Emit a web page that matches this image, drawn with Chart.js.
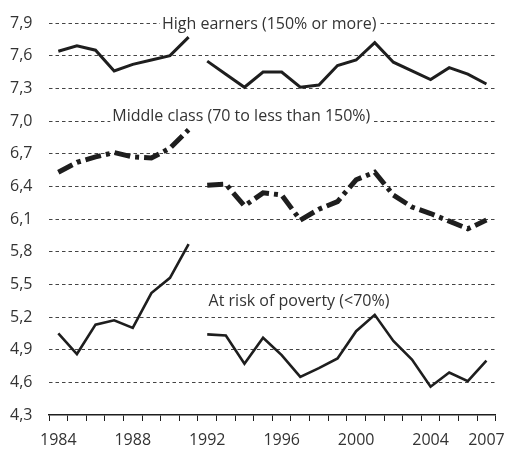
<!DOCTYPE html>
<html>
<head>
<meta charset="utf-8">
<script src="https://cdn.jsdelivr.net/npm/chart.js@4/dist/chart.umd.min.js"></script>
<style>
  html, body { margin: 0; padding: 0; background: #fff; }
  #wrap { width: 515px; height: 452px; position: relative; }
</style>
</head>
<body>
<div id="wrap"><canvas id="incomeChart"></canvas></div>
<script>
const years = ['1984', '1985', '1986', '1987', '1988', '1989', '1990', '1991',
  '1992', '1993', '1994', '1995', '1996', '1997', '1998', '1999',
  '2000', '2001', '2002', '2003', '2004', '2005', '2006', '2007'];

const highEarners = [7.64, 7.69, 7.65, 7.46, 7.52, 7.56, 7.60, 7.77,
  7.55, 7.43, 7.31, 7.45, 7.45, 7.31, 7.33, 7.51,
  7.56, 7.72, 7.54, 7.46, 7.38, 7.49, 7.43, 7.34];

const middleClass = [6.53, 6.62, 6.67, 6.71, 6.67, 6.66, 6.75, 6.92,
  6.41, 6.42, 6.22, 6.34, 6.32, 6.09, 6.19, 6.26,
  6.46, 6.53, 6.32, 6.21, 6.15, 6.08, 6.01, 6.09];

const atRisk = [5.05, 4.86, 5.13, 5.17, 5.10, 5.42, 5.56, 5.87,
  5.04, 5.03, 4.77, 5.01, 4.85, 4.65, 4.73, 4.82,
  5.07, 5.22, 4.98, 4.81, 4.56, 4.69, 4.61, 4.80];

const yTicks = [4.3, 4.6, 4.9, 5.2, 5.5, 5.8, 6.1, 6.4, 6.7, 7.0, 7.3, 7.6, 7.9];
const xTickLabels = ['1984', '1988', '1992', '1996', '2000', '2004', '2007'];

// the series break between 1991 and 1992 (west only / unified Germany)
const lastWestYear = '1991';

const seriesLabels = [
  { text: 'High earners (150% or more)', x: 11.33, y: 7.885 },
  { text: 'Middle class (70 to less than 150%)', x: 9.83, y: 7.04 },
  { text: 'At risk of poverty (<70%)', x: 12.93, y: 5.34 }
];

const ink = '#1e1e1e';
const textColor = '#333';
const fontFamily = "'Open Sans', sans-serif";
const gridDash = [3.5, 3];

function beforeBreak(values) {
  return values.map((v, i) => (years[i] <= lastWestYear ? v : null));
}
function afterBreak(values) {
  return values.map((v, i) => (years[i] > lastWestYear ? v : null));
}

function lineSet(values, width, dash) {
  return {
    data: values,
    borderColor: ink,
    borderWidth: width,
    borderDash: dash,
    borderCapStyle: 'butt',
    borderJoinStyle: 'miter',
    pointRadius: 0,
    fill: false,
    tension: 0,
    spanGaps: false
  };
}

const dashDot = [16, 5, 4, 5];

// labels sit on the gridlines with a white box behind them
const seriesLabelPlugin = {
  id: 'seriesLabels',
  beforeDatasetsDraw(chart) {
    const c = chart.ctx;
    const xs = chart.scales.x;
    const ys = chart.scales.y;
    c.save();
    c.font = '16px ' + fontFamily;
    c.textAlign = 'center';
    c.textBaseline = 'middle';
    seriesLabels.forEach(lab => {
      const px = xs.getPixelForValue(lab.x);
      const py = ys.getPixelForValue(lab.y);
      const w = c.measureText(lab.text).width;
      c.fillStyle = '#fff';
      c.fillRect(px - w / 2 - 2, py - 9, w + 4, 18);
      c.fillStyle = textColor;
      c.fillText(lab.text, px, py);
    });
    c.restore();
  }
};

new Chart(document.getElementById('incomeChart'), {
  type: 'line',
  data: {
    labels: years,
    datasets: [
      lineSet(beforeBreak(highEarners), 3, []),
      lineSet(afterBreak(highEarners), 3, []),
      lineSet(beforeBreak(middleClass), 5, dashDot),
      lineSet(afterBreak(middleClass), 5, dashDot),
      lineSet(beforeBreak(atRisk), 2.6, []),
      lineSet(afterBreak(atRisk), 2.6, [])
    ]
  },
  options: {
    responsive: true,
    maintainAspectRatio: false,
    animation: false,
    layout: { padding: { top: 23, right: 13, left: 10, bottom: 0 } },
    plugins: {
      legend: { display: false },
      tooltip: { enabled: false }
    },
    scales: {
      x: {
        type: 'category',
        offset: true,
        afterFit: scale => { scale.height = 37; },
        border: { display: true, color: ink, width: 1.5 },
        grid: {
          offset: true,
          drawOnChartArea: false,
          drawTicks: true,
          tickLength: 6,
          color: ink,
          lineWidth: 1
        },
        ticks: {
          autoSkip: false,
          maxRotation: 0,
          padding: 10,
          color: textColor,
          font: { family: fontFamily, size: 16 },
          callback: function (value) {
            const lab = this.getLabelForValue(value);
            return xTickLabels.includes(lab) ? lab : '';
          }
        }
      },
      y: {
        min: 4.3,
        max: 7.9,
        afterFit: scale => { scale.width = 39; },
        afterBuildTicks: scale => {
          scale.ticks = yTicks.map(v => ({ value: v }));
        },
        border: { display: false, dash: gridDash },
        grid: {
          drawTicks: false,
          borderDash: gridDash,
          color: ctx => (ctx.tick && ctx.tick.value === 4.3 ? 'rgba(0,0,0,0)' : '#444'),
          lineWidth: 1
        },
        ticks: {
          crossAlign: 'far',
          color: textColor,
          font: { family: fontFamily, size: 16 },
          callback: value => value.toFixed(1).replace('.', ',')
        }
      }
    }
  },
  plugins: [seriesLabelPlugin]
});
</script>
</body>
</html>
